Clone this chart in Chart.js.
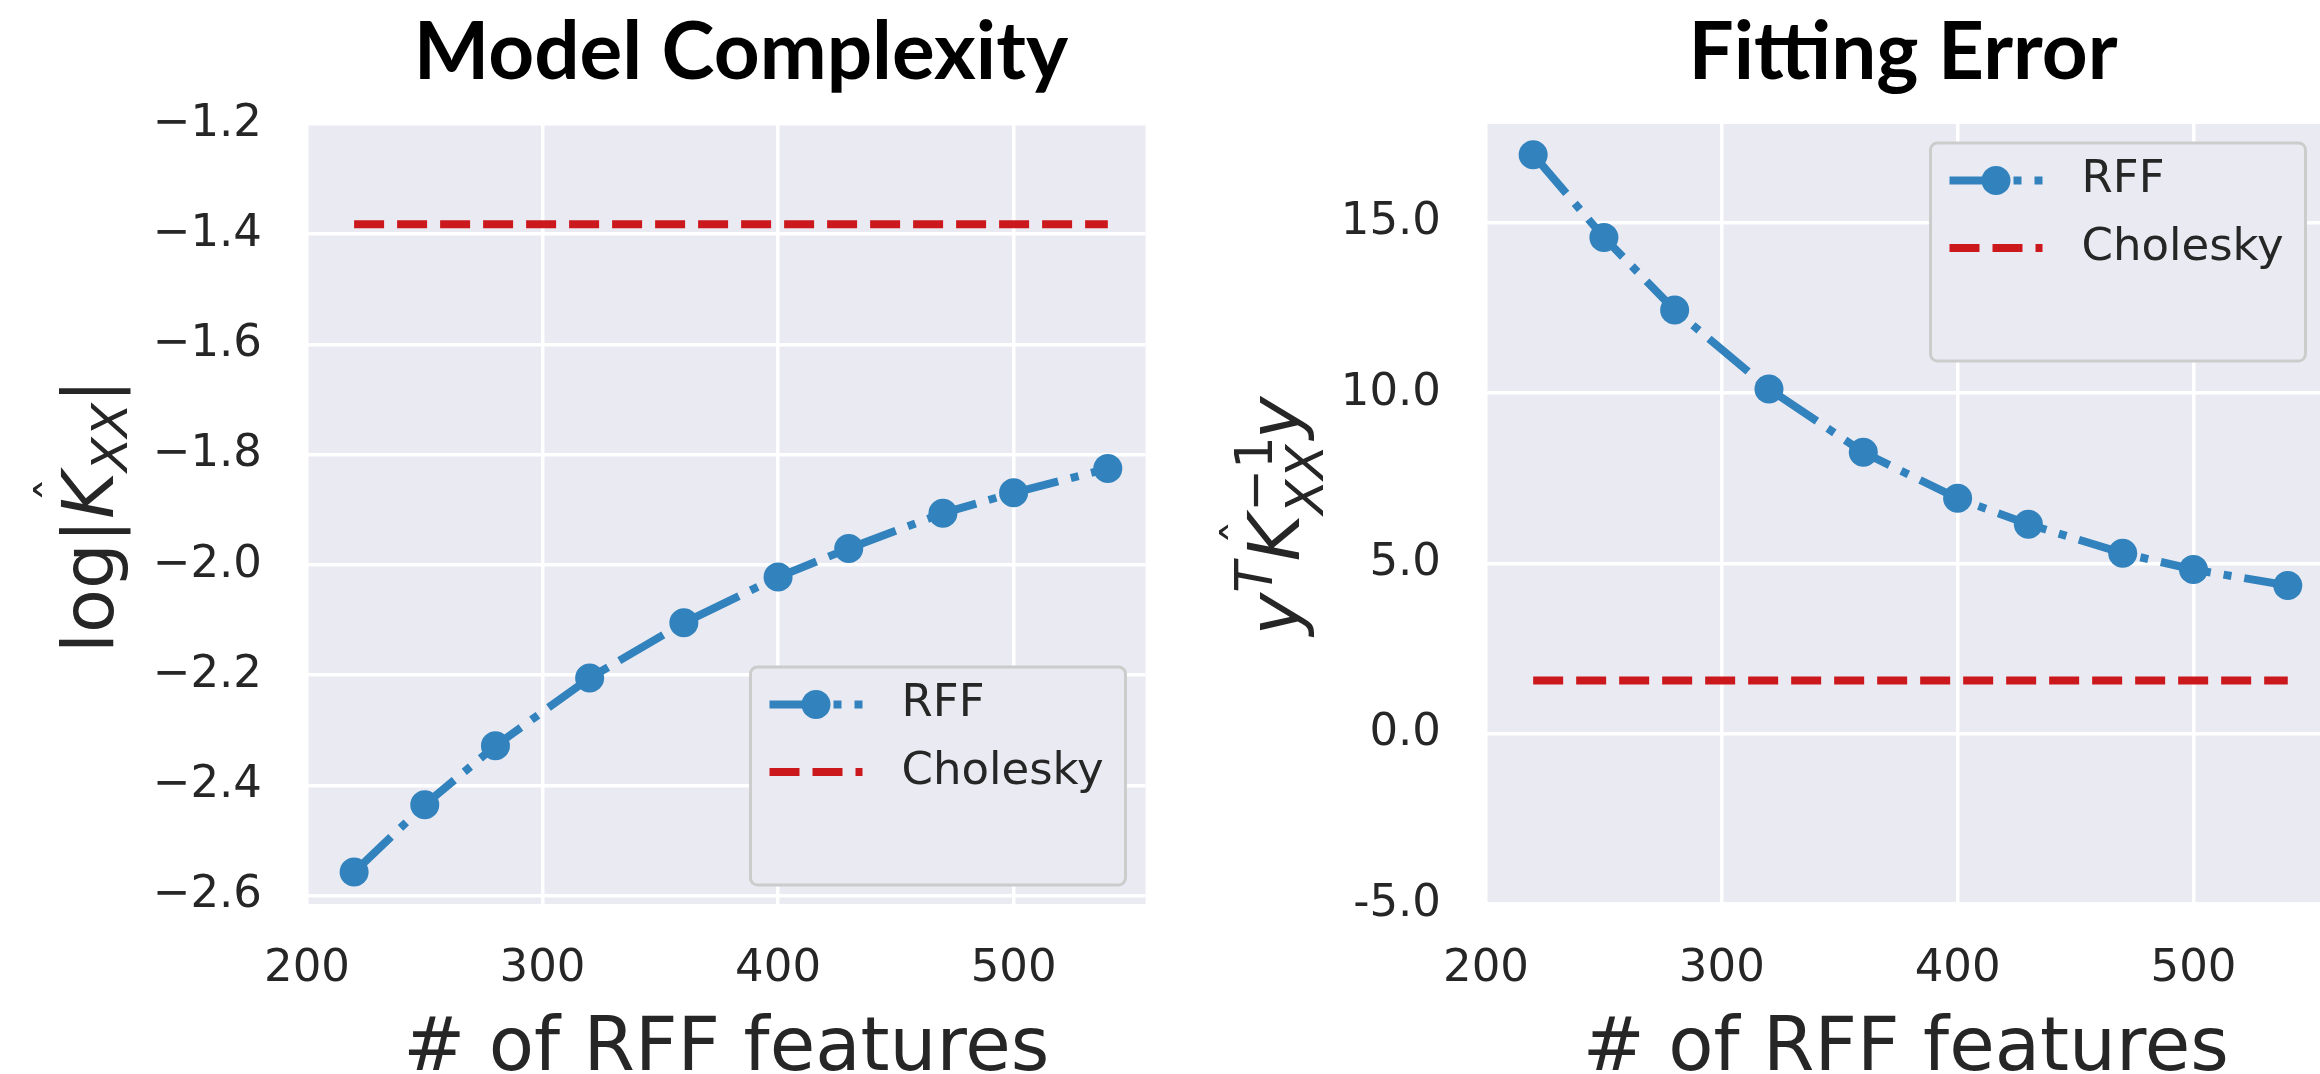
<!DOCTYPE html>
<html>
<head>
<meta charset="utf-8">
<script src="https://cdn.jsdelivr.net/npm/chart.js@4.4.0/dist/chart.umd.min.js"></script>
<style>
  html, body { margin: 0; padding: 0; background: #fff; overflow: hidden; width: 2320px; height: 1074px; }
  canvas { position: absolute; top: 0; }
  #left { left: 0; width: 1160px; height: 1074px; }
  #right { left: 1160px; width: 1180px; height: 1074px; }
</style>
</head>
<body>
<canvas id="left" width="1160" height="1074"></canvas>
<canvas id="right" width="1180" height="1074"></canvas>
<script>
// number of RFF features
const features = [220, 250, 280, 320, 360, 400, 430, 470, 500, 540]
// model complexity: log|K_xx|
const rffLogdet = [-2.557, -2.435, -2.328, -2.205, -2.105, -2.022, -1.970, -1.906, -1.869, -1.825]
const cholLogdet = [-1.382, -1.382, -1.382, -1.382, -1.382, -1.382, -1.382, -1.382, -1.382, -1.382]
// fitting error: y^T K_xx^-1 y
const rffFit = [17.0, 14.57, 12.44, 10.12, 8.26, 6.91, 6.15, 5.30, 4.82, 4.35]
const cholFit = [1.56, 1.56, 1.56, 1.56, 1.56, 1.56, 1.56, 1.56, 1.56, 1.56]

const xTicks = [200, 300, 400, 500]
const leftYTicks = [-2.6, -2.4, -2.2, -2.0, -1.8, -1.6, -1.4, -1.2]
const leftYLabels = ['\u22122.6', '\u22122.4', '\u22122.2', '\u22122.0', '\u22121.8', '\u22121.6', '\u22121.4', '\u22121.2']
const rightYTicks = [-5, 0, 5, 10, 15]
const rightYLabels = ['-5.0', '0.0', '5.0', '10.0', '15.0']

const blue = '#3182bd'
const red = '#cb181d'
const ink = '#262626'

//gray axes background, seaborn style
const bgPlugin = {
  id: 'bg',
  beforeDraw(chart) {
    const { ctx, chartArea: a } = chart
    ctx.save()
    ctx.fillStyle = '#eaeaf2'
    ctx.fillRect(a.left, a.top, a.right - a.left, a.bottom - a.top)
    ctx.restore()
  }
}

//draws a rotated math label, reading bottom to top
function drawMath(ctx, parts, x, y) {
  const font = p => (p.italic ? 'italic ' : '') + p.size + 'px "DejaVu Sans"'
  const adv = p => { ctx.font = font(p); return ctx.measureText(p.text).width }
  const width = p => p.stack ? Math.max(...p.stack.map(adv)) : adv(p)
  ctx.save()
  ctx.translate(x, y)
  ctx.rotate(-Math.PI / 2)
  ctx.fillStyle = ink
  ctx.textBaseline = 'alphabetic'
  ctx.textAlign = 'left'
  const total = parts.reduce((s, p) => s + width(p) + (p.gap || 0), 0)
  let cx = -total / 2
  parts.forEach(p => {
    const items = p.stack || [p]
    items.forEach(it => {
      ctx.font = font(it)
      ctx.fillText(it.text, cx + (it.dx || 0), it.dy || 0)
      if (it.hat) {
        const w = adv(it)
        ctx.font = '50px "DejaVu Sans"'
        ctx.textAlign = 'center'
        ctx.fillText('\u02C6', cx + w * 0.62, -40)
        ctx.textAlign = 'left'
      }
    })
    cx += width(p) + (p.gap || 0)
  })
  ctx.restore()
}

//title, y label and legend
const decorPlugin = {
  id: 'decor',
  afterDraw(chart, args, opts) {
    const { ctx, chartArea: a } = chart
    ctx.save()
    ctx.fillStyle = '#000'
    ctx.font = 'bold 80px Lato'
    ctx.textAlign = 'center'
    ctx.textBaseline = 'alphabetic'
    ctx.fillText(opts.title, opts.titleX, 78.5)
    ctx.restore()

    drawMath(ctx, opts.yTitle, opts.yTitleX, 516)

    //legend box
    const w = 375, h = 218
    const left = a.right - 20 - w
    const top = opts.legendCorner == 'upper right' ? a.top + 19 : a.bottom - 19 - h
    ctx.save()
    ctx.beginPath()
    ctx.roundRect(left, top, w, h, 7)
    ctx.fillStyle = '#eaeaf2'
    ctx.fill()
    ctx.lineWidth = 3
    ctx.strokeStyle = '#cccccc'
    ctx.stroke()
    chart.data.datasets.forEach((ds, i) => {
      const y = top + 37.5 + i * 67.5
      ctx.beginPath()
      ctx.setLineDash(ds.borderDash || [])
      ctx.lineWidth = ds.borderWidth
      ctx.strokeStyle = ds.borderColor
      ctx.moveTo(left + 19, y)
      ctx.lineTo(left + 112, y)
      ctx.stroke()
      ctx.setLineDash([])
      if (ds.pointRadius > 0) {
        ctx.beginPath()
        ctx.arc(left + 65.5, y, ds.pointRadius, 0, Math.PI * 2)
        ctx.fillStyle = ds.pointBackgroundColor
        ctx.fill()
      }
      ctx.fillStyle = ink
      ctx.font = '45px "DejaVu Sans"'
      ctx.textAlign = 'left'
      ctx.textBaseline = 'middle'
      ctx.fillText(ds.label, left + 151, y)
    })
    ctx.restore()
  }
}

function makeChart(id, cfg) {
  const rffPoints = features.map((x, i) => ({ x: x, y: cfg.rff[i] }))
  const cholPoints = features.map((x, i) => ({ x: x, y: cfg.chol[i] }))
  return new Chart(document.getElementById(id), {
    type: 'line',
    data: {
      datasets: [{
        label: 'RFF',
        data: rffPoints,
        borderColor: blue,
        backgroundColor: blue,
        borderWidth: 8,
        borderDash: [51, 13, 8, 13],
        pointRadius: 14.5,
        pointHoverRadius: 14.5,
        pointBorderWidth: 0,
        pointBackgroundColor: blue
      }, {
        label: 'Cholesky',
        data: cholPoints,
        borderColor: red,
        backgroundColor: red,
        borderWidth: 8,
        borderDash: [30, 13],
        pointRadius: 0
      }]
    },
    options: {
      responsive: false,
      animation: false,
      devicePixelRatio: 1,
      layout: { padding: { left: 0, right: 6, top: 124, bottom: 0 } },
      plugins: {
        legend: { display: false },
        tooltip: { enabled: false },
        decor: cfg.decor
      },
      scales: {
        x: {
          type: 'linear',
          min: 200,
          max: 556,
          afterBuildTicks: s => { s.ticks = xTicks.map(v => ({ value: v })) },
          afterFit: s => { s.height = 170 },
          grid: { color: '#ffffff', lineWidth: 3.5, drawTicks: false },
          border: { display: false },
          ticks: {
            padding: 38,
            autoSkip: false,
            maxRotation: 0,
            color: ink,
            font: { family: 'DejaVu Sans', size: 45 },
            callback: v => String(v)
          },
          title: {
            display: true,
            text: '# of RFF features',
            color: ink,
            font: { family: 'DejaVu Sans', size: 74, lineHeight: 0.62 },
            padding: 0
          }
        },
        y: {
          type: 'linear',
          min: cfg.yMin,
          max: cfg.yMax,
          afterBuildTicks: s => { s.ticks = cfg.yTicks.map(v => ({ value: v })) },
          afterFit: s => { s.width = cfg.yAxisWidth },
          grid: { color: '#ffffff', lineWidth: 3.5, drawTicks: false },
          border: { display: false },
          ticks: {
            padding: 45,
            color: ink,
            font: { family: 'DejaVu Sans', size: 45 },
            callback: v => cfg.yLabels[cfg.yTicks.indexOf(v)]
          }
        }
      }
    },
    plugins: [bgPlugin, decorPlugin]
  })
}

makeChart('left', {
  rff: rffLogdet,
  chol: cholLogdet,
  yMin: -2.615,
  yMax: -1.2,
  yTicks: leftYTicks,
  yLabels: leftYLabels,
  yAxisWidth: 307,
  decor: {
    title: 'Model Complexity',
    titleX: 741,
    yTitleX: 113,
    legendCorner: 'lower right',
    yTitle: [
      { text: 'log', size: 72 },
      { text: '|', size: 72 },
      { text: 'K', size: 72, italic: true, hat: true },
      { text: 'XX', size: 50, italic: true, dy: 14 },
      { text: '|', size: 72 }
    ]
  }
})

makeChart('right', {
  rff: rffFit,
  chol: cholFit,
  yMin: -5,
  yMax: 17.9,
  yTicks: rightYTicks,
  yLabels: rightYLabels,
  yAxisWidth: 326,
  decor: {
    title: 'Fitting Error',
    titleX: 743,
    yTitleX: 139,
    legendCorner: 'upper right',
    yTitle: [
      { text: 'y', size: 72, italic: true },
      { text: 'T', size: 51, italic: true, dy: -27 },
      { text: 'K', size: 72, italic: true, hat: true },
      { stack: [
        { text: '\u22121', size: 51, dy: -27, dx: 3 },
        { text: 'XX', size: 51, italic: true, dy: 24 }
      ] },
      { text: 'y', size: 72, italic: true }
    ]
  }
})
</script>
</body>
</html>
